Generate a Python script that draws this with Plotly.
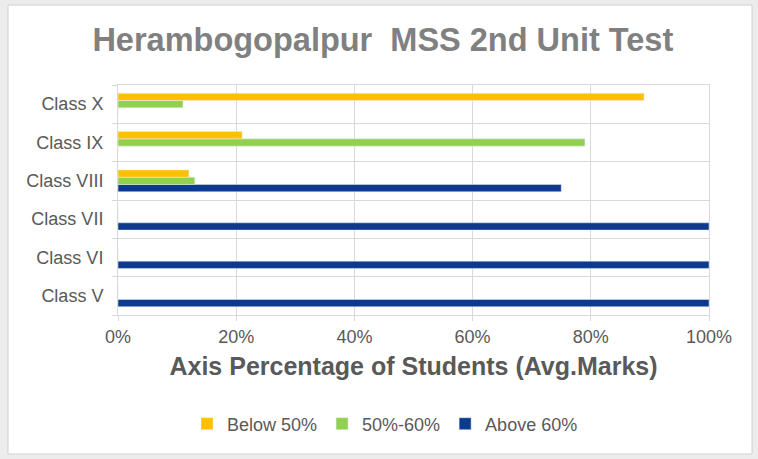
import plotly.graph_objects as go

categories = ["Class V", "Class VI", "Class VII", "Class VIII", "Class IX", "Class X"]
below_50 = [0, 0, 0, 12, 21, 89]
between_50_60 = [0, 0, 0, 13, 79, 11]
above_60 = [100, 100, 100, 75, 0, 0]
x_ticks = [0, 20, 40, 60, 80, 100]
x_tick_labels = [f"{v}%" for v in x_ticks]

W, H = 758, 459
L, R, T, B = 118, 49, 85, 144
pw, ph = W - L - R, H - T - B

def px_x(p):
    return (p - L) / pw

def px_y(p):
    return 1 - (p - T) / ph

fig = go.Figure()
fig.add_trace(go.Bar(y=categories, x=above_60, orientation="h", name="Above 60%",
                     marker_color="#0D3A8E"))
fig.add_trace(go.Bar(y=categories, x=between_50_60, orientation="h", name="50%-60%",
                     marker_color="#92D050"))
fig.add_trace(go.Bar(y=categories, x=below_50, orientation="h", name="Below 50%",
                     marker_color="#FFC000"))

grid = "#D9D9D9"
txt = "#595959"
font = "Liberation Sans, Arial, sans-serif"

fig.update_layout(
    width=W, height=H,
    margin=dict(l=L, r=R, t=T, b=B, pad=0),
    barmode="group", bargap=0.43, bargroupgap=0,
    paper_bgcolor="#ECECEC", plot_bgcolor="white",
    font=dict(family=font, color=txt, size=18),
    title=dict(text="<b>Herambogopalpur\u00a0 MSS 2nd Unit Test</b>",
               x=0.505, xref="container", xanchor="center",
               y=1 - 40 / H, yref="container", yanchor="middle",
               font=dict(size=32.5, color="#808080", family=font)),
    legend=dict(orientation="h", traceorder="reversed",
                x=px_x(385), xanchor="center", y=px_y(424), yanchor="middle",
                font=dict(size=18, color=txt), bgcolor="rgba(0,0,0,0)",
                itemwidth=30),
    xaxis=dict(range=[0, 100], tickvals=x_ticks, ticktext=x_tick_labels,
               showgrid=True, gridcolor=grid, gridwidth=1,
               showline=True, linecolor=grid, mirror=True,
               ticks="outside", ticklen=5, tickcolor=grid,
               ticklabelstandoff=0,
               tickfont=dict(size=18, color=txt), zeroline=False,
               title=dict(text="<b>Axis Percentage of Students (Avg.Marks)</b>",
                          font=dict(size=25, color=txt), standoff=11)),
    yaxis=dict(type="category", categoryorder="array", categoryarray=categories,
               tickson="boundaries", showgrid=True, gridcolor=grid, gridwidth=1,
               showline=True, linecolor=grid, mirror=True,
               ticks="outside", ticklen=5, tickcolor=grid,
               ticklabelstandoff=10,
               tickfont=dict(size=18, color=txt)),
    shapes=[dict(type="rect", xref="paper", yref="paper", layer="below",
                 x0=px_x(8), x1=px_x(752), y0=px_y(454), y1=px_y(5),
                 fillcolor="white", line=dict(color="#D0D0D0", width=1))],
)

fig.write_html("out.html", config={"displayModeBar": False},
               post_script="document.body.style.margin='0px';document.body.style.overflow='hidden';")
